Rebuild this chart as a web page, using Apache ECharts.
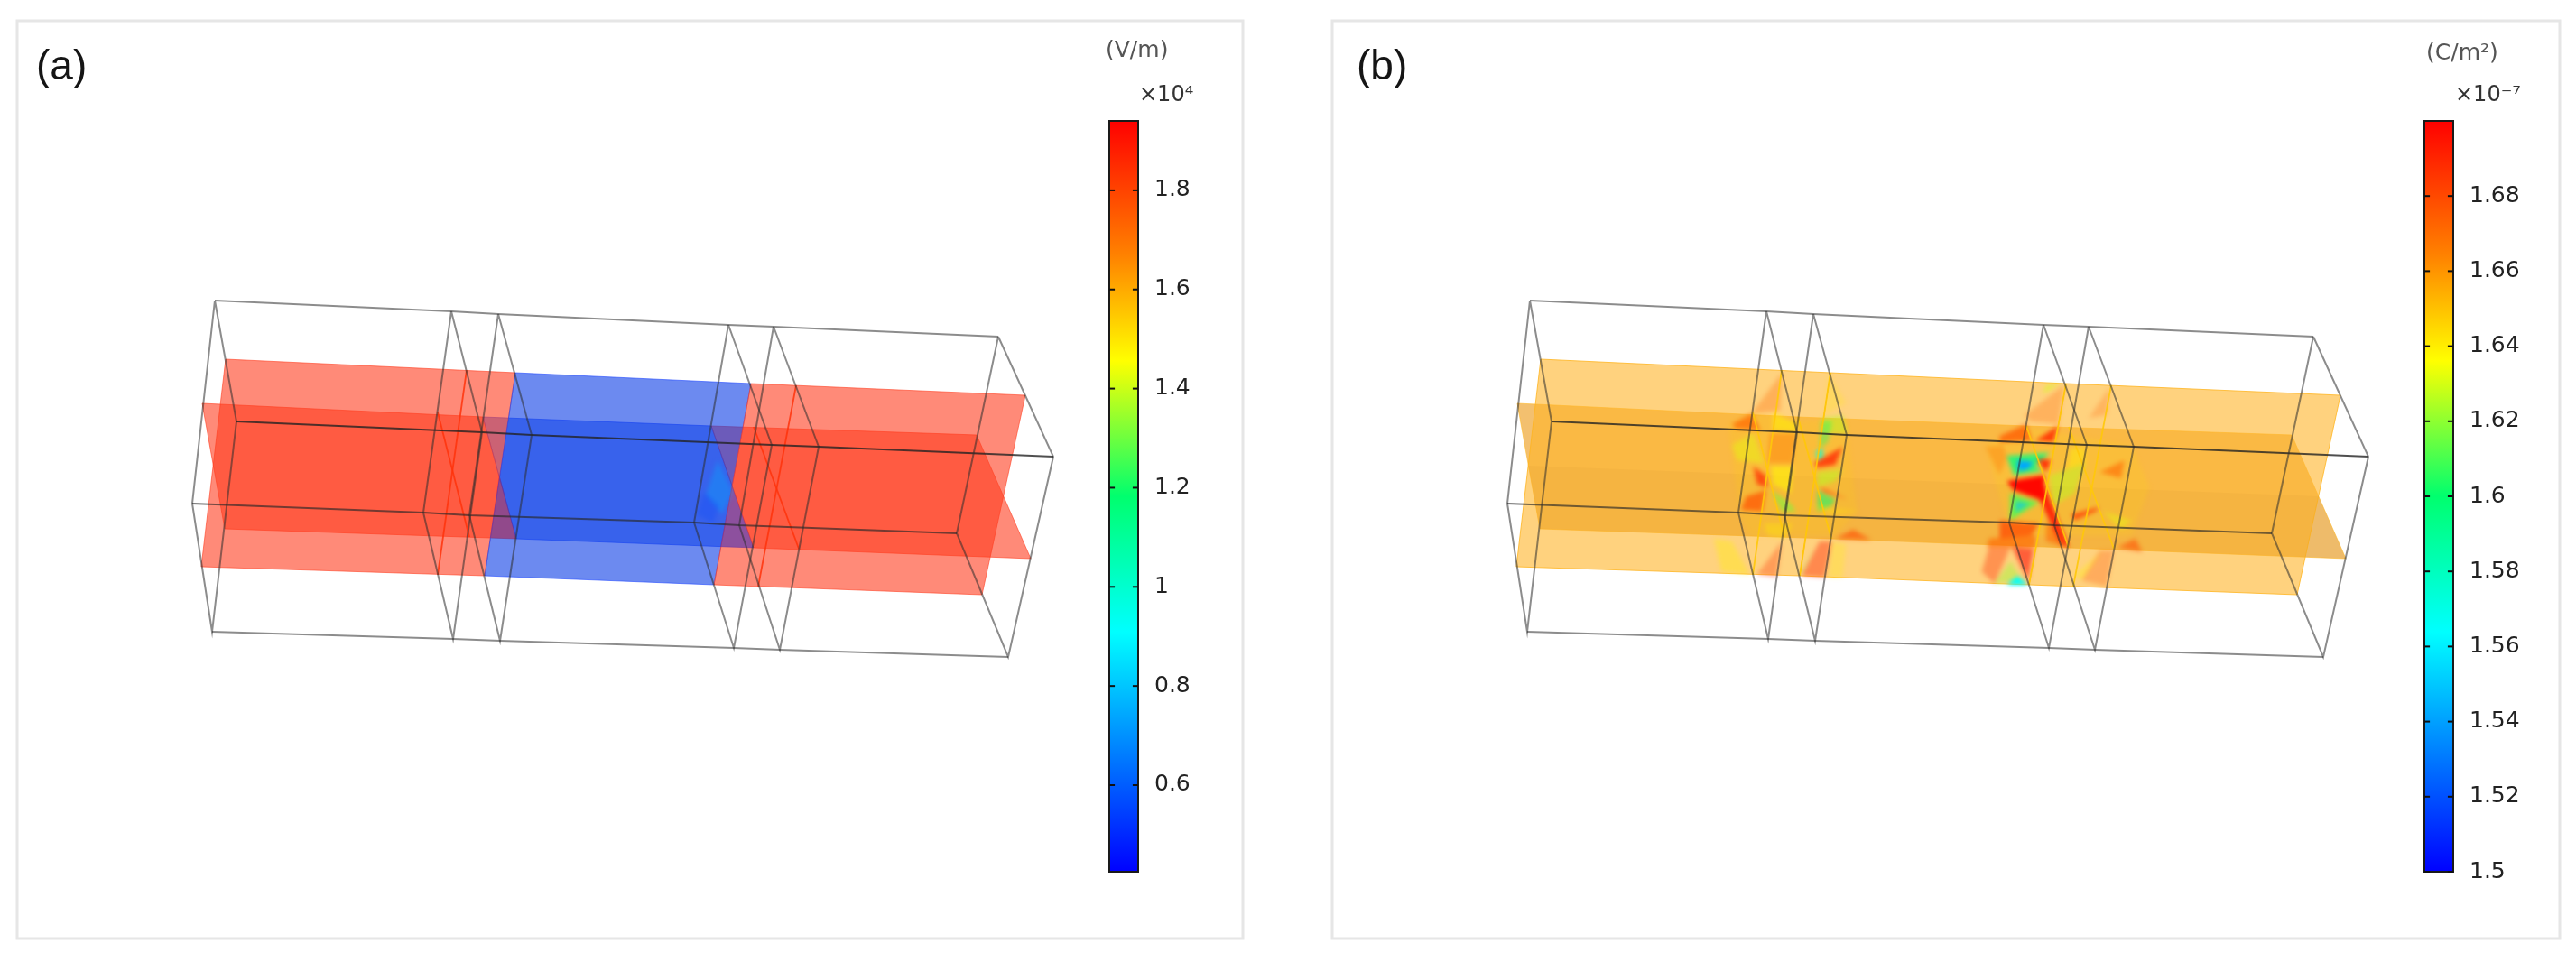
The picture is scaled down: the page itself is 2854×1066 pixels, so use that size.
<!DOCTYPE html>
<html>
<head>
<meta charset="utf-8">
<style>html,body{margin:0;padding:0;background:#fff;overflow:hidden}#c{width:2854px;height:1066px}</style>
<script src="https://cdn.jsdelivr.net/npm/echarts@6/dist/echarts.min.js"></script>
</head>
<body>
<div id="c"></div>
<script>
// Wire-frame: four long edges of the block, sampled at the six cross-sections
const edgeA = [[238,333],[500,345],[552,348],[807,360],[857,362],[1106,373]];
const edgeB = [[262,467],[534,479],[589,482],[855,493],[907,495],[1167,506]];
const edgeC = [[213,558],[469,568],[520,571],[769,579],[819,582],[1060,591]];
const edgeD = [[235,700],[502,708],[554,710],[813,718],[864,720],[1117,728]];

// The two cut planes, top and bottom edges at the same six cross-sections
const planeXTop    = [[250,398],[517,410],[571,413],[832,425],[882,427],[1136,438]];
const planeXBottom = [[223,628],[485,637],[537,638],[791,648],[840,650],[1088,659]];
const planeYTop    = [[224,447],[485,457],[535,462],[788,472],[835,473],[1082,482]];
const planeYBottom = [[249,586],[520,595],[572,597],[835,607],[885,608],[1142,619]];
const planeYShade  = [[236,516],[1112,550],[1142,619],[249,586]];

// Colour-bar ranges and ticks
const rangeA = [0.4252, 1.94];
const rangeB = [1.5, 1.70];
const ticksA = [0.6, 0.8, 1, 1.2, 1.4, 1.6, 1.8];
const ticksB = [1.5, 1.52, 1.54, 1.56, 1.58, 1.6, 1.62, 1.64, 1.66, 1.68];

// Rainbow colour scale
const jetStops = [[0,[0,0,255]],[0.32,[0,255,255]],[0.5,[0,255,110]],[0.68,[255,255,0]],[0.82,[255,130,0]],[1,[255,0,0]]];

// Field values of the panels: region field value, alpha, polygon
const fieldA = [
  [0.75, 0.35, [[795,510],[812,545],[800,570],[782,548]]],
  [0.55, 0.25, [[780,545],[797,560],[790,580],[772,570]]]
];
const overlapA = [
  [1.9, 0.25, [[553,525],[572,597],[543,596]]],
  [0.5, 0.30, [[811,538],[835,607],[798,606]]]
];
const fieldB = [
  [1.645,0.15,[[240,270],[310,230],[440,260],[570,250],[600,560],[540,640],[300,640],[270,560]]],
  [1.642,0.14,[[960,340],[1070,280],[1370,340],[1420,480],[1370,640],[1030,640]]],
  [1.672,0.30,[[305,235],[390,100],[385,225]]],
  [1.640,0.22,[[520,100],[570,200],[510,240]]],
  [1.672,0.70,[[250,270],[305,235],[330,290],[260,285]]],
  [1.638,0.50,[[365,230],[435,270],[430,295],[365,290]]],
  [1.625,0.45,[[500,250],[560,240],[575,300],[510,300]]],
  [1.632,0.42,[[250,340],[310,300],[340,400],[265,390]]],
  [1.668,0.40,[[355,300],[430,300],[420,400],[350,400]]],
  [1.636,0.50,[[360,410],[420,410],[415,500],[365,470]]],
  [1.690,0.70,[[310,410],[345,440],[350,480],[320,470]]],
  [1.678,0.70,[[290,510],[345,490],[335,560],[275,555]]],
  [1.615,0.55,[[360,490],[410,530],[430,560],[390,560]]],
  [1.625,0.50,[[490,430],[560,420],[540,460],[490,480]]],
  [1.605,0.45,[[500,260],[530,260],[520,330],[495,350]]],
  [1.692,0.75,[[480,400],[560,345],[540,405],[490,415]]],
  [1.572,0.75,[[485,360],[505,350],[505,380],[490,390]]],
  [1.600,0.55,[[490,490],[540,520],[530,540],[490,560]]],
  [1.692,0.75,[[495,480],[575,520],[510,495]]],
  [1.640,0.30,[[470,540],[610,560],[530,570]]],
  [1.640,0.35,[[340,600],[420,600],[400,650],[350,640]]],
  [1.680,0.60,[[540,650],[590,620],[640,655]]],
  [1.639,0.35,[[200,650],[250,660],[300,770],[220,760]]],
  [1.690,0.30,[[320,770],[390,660],[375,780]]],
  [1.610,0.30,[[440,770],[480,680],[450,760]]],
  [1.695,0.38,[[445,775],[495,660],[530,660],[510,780]]],
  [1.639,0.25,[[530,660],[570,670],[560,780],[520,780]]],
  [1.676,0.26,[[1070,240],[1180,140],[1165,270],[1085,260]]],
  [1.630,0.50,[[1120,170],[1130,140],[1172,135]]],
  [1.676,0.24,[[1250,250],[1310,145],[1300,240]]],
  [1.676,0.75,[[1000,310],[1075,270],[1090,325],[1000,330]]],
  [1.688,0.85,[[1100,325],[1165,275],[1150,330]]],
  [1.668,0.35,[[960,345],[1010,340],[1020,380],[1000,440]]],
  [1.595,0.80,[[1020,375],[1140,365],[1100,410],[1120,425],[1040,440]]],
  [1.542,1.00,[[1050,390],[1095,395],[1080,420],[1052,425]]],
  [1.692,0.85,[[1105,385],[1145,390],[1130,430],[1115,405]]],
  [1.625,0.45,[[1140,440],[1240,400],[1210,500],[1150,540]]],
  [1.638,0.40,[[1200,350],[1240,350],[1240,400],[1190,420]]],
  [1.698,1.00,[[1020,460],[1125,440],[1125,540],[1110,520],[1040,490]]],
  [1.695,0.85,[[1125,470],[1195,680],[1170,670],[1120,540]]],
  [1.680,0.75,[[1000,590],[1110,600],[1090,640],[1000,650]]],
  [1.610,0.80,[[1030,500],[1110,530],[1030,590]]],
  [1.548,0.60,[[1045,525],[1085,535],[1045,565]]],
  [1.672,0.65,[[970,650],[1100,640],[1100,680],[965,680]]],
  [1.674,0.55,[[1130,590],[1190,680],[1130,660]]],
  [1.685,0.75,[[1200,570],[1280,545],[1270,560],[1210,590]]],
  [1.672,0.60,[[1280,430],[1350,390],[1340,450]]],
  [1.632,0.40,[[1290,560],[1370,590],[1340,620]]],
  [1.680,0.55,[[1330,680],[1380,650],[1400,695]]],
  [1.690,0.36,[[950,760],[970,680],[1030,680],[985,800]]],
  [1.700,0.55,[[1035,680],[1095,685],[1080,790]]],
  [1.620,0.40,[[985,800],[1030,725],[1065,790]]],
  [1.565,1.00,[[1020,805],[1050,775],[1080,805]]],
  [1.639,0.32,[[1210,770],[1290,690],[1230,790]]],
  [1.682,0.26,[[1230,790],[1280,690],[1320,690],[1300,810]]]
];

function jet(t){
  t = Math.max(0, Math.min(1, t));
  for (let i = 1; i < jetStops.length; i++) {
    if (t <= jetStops[i][0]) {
      const a = jetStops[i-1], b = jetStops[i], f = (t-a[0])/(b[0]-a[0]);
      return a[1].map((v,k)=>Math.round(v+(b[1][k]-v)*f));
    }
  }
  return jetStops[jetStops.length-1][1];
}
const rgba = (c,a)=>`rgba(${c[0]},${c[1]},${c[2]},${a})`;

function polySeries(name, xi, yi, polys, z, zlevel){
  return {
    type:'custom', name, xAxisIndex:xi, yAxisIndex:yi, silent:true, clip:false, z, zlevel:zlevel||0,
    data: polys.map((p)=>p.pts[0]),
    encode:{x:0,y:1},
    renderItem(params, api){
      const p = polys[params.dataIndex];
      const style = {fill:p.fill||'none', stroke:p.stroke||null, lineWidth:p.lw||0};
      if (p.open) {
        return {type:'polyline', shape:{points:p.pts.map(q=>api.coord(q))}, style:{fill:'none',stroke:p.stroke,lineWidth:p.lw}};
      }
      return {type:'polygon', shape:{points:p.pts.map(q=>api.coord(q))}, style};
    }
  };
}

function band(top,bottom,i,j){ return [top[i],top[j],bottom[j],bottom[i]]; }

function wires(){
  const out = [];
  const stroke = 'rgba(45,45,45,0.55)';
  out.push({pts:edgeA,open:true,stroke,lw:2});
  out.push({pts:edgeB,open:true,stroke:'rgba(35,35,35,0.8)',lw:2.2});
  out.push({pts:edgeC,open:true,stroke:'rgba(40,40,40,0.65)',lw:2});
  out.push({pts:edgeD,open:true,stroke,lw:2});
  for (let i=0;i<edgeA.length;i++){
    out.push({pts:[edgeA[i],edgeB[i],edgeD[i],edgeC[i],edgeA[i]],open:true,stroke,lw:2});
  }
  return out;
}

function sections(lineColor, which){
  const out=[];
  which.forEach(i=>{
    out.push({pts:[planeXTop[i],planeXBottom[i]],open:true,stroke:lineColor,lw:1.8});
    out.push({pts:[planeYTop[i],planeYBottom[i]],open:true,stroke:lineColor,lw:1.8});
  });
  return out;
}

function panelPlanes(colorsY, colorsX, edgeY, edgeX){
  const out=[];
  [[0,2,0],[2,3,1],[3,5,0]].forEach(s=>{
    out.push({pts:band(planeYTop,planeYBottom,s[0],s[1]),fill:colorsY[s[2]],stroke:edgeY[s[2]],lw:1});
  });
  [[0,2,0],[2,3,1],[3,5,0]].forEach(s=>{
    out.push({pts:band(planeXTop,planeXBottom,s[0],s[1]),fill:colorsX[s[2]],stroke:edgeX[s[2]],lw:1});
  });
  return out;
}

const norm = (r,v)=>(v-r[0])/(r[1]-r[0]);
const patchesA = fieldA.map(r=>({pts:r[2],fill:rgba(jet(norm(rangeA,r[0])),r[1])}));
const patchesB = fieldB.map(r=>({pts:r[2],fill:rgba(jet(norm(rangeB,r[0])),r[1])}));
const overlaysA = overlapA.map(r=>({pts:r[2],fill:rgba(jet(norm(rangeA,r[0])),r[1])}));

const frameA = [[19,23],[1377,23],[1377,1040],[19,1040]];
const frameB = [[19,23],[1379,23],[1379,1040],[19,1040]];

const sceneX = (i,max)=>({type:'value',gridIndex:i,min:0,max,show:false});
const sceneY = (i,max)=>({type:'value',gridIndex:i,min:0,max,inverse:true,show:false});

const gradient = {type:'linear',x:0,y:1,x2:0,y2:0,colorStops:jetStops.map(s=>({offset:s[0],color:rgba(s[1],1)}))};

function barSeries(xi,yi,range){
  return {
    type:'custom', xAxisIndex:xi, yAxisIndex:yi, silent:true, z:5, zlevel:2, clip:false,
    data:[[0,range[0],1,range[1]]], encode:{x:[0,2],y:[1,3]},
    renderItem(params,api){
      const p0=api.coord([api.value(0),api.value(3)]), p1=api.coord([api.value(2),api.value(1)]);
      return {type:'rect',shape:{x:p0[0],y:p0[1],width:p1[0]-p0[0],height:p1[1]-p0[1]},
        style:{fill:gradient,stroke:'#1a1a1a',lineWidth:2}};
    }
  };
}
function tickSeries(xi,yi,ticks){
  return {
    type:'custom', xAxisIndex:xi, yAxisIndex:yi, silent:true, z:6, zlevel:2, clip:false,
    data:ticks.map(v=>[0,v]), encode:{x:0,y:1},
    renderItem(params,api){
      const v = api.value(1), style = {stroke:'#111',lineWidth:2,fill:'none'};
      return {type:'group',children:[[0,0.19],[0.81,1]].map(s=>({type:'polyline',
        shape:{points:[api.coord([s[0],v]),api.coord([s[1],v])]},style}))};
    }
  };
}
function barAxis(gi,range,ticks){
  return {type:'value',gridIndex:gi,position:'right',min:range[0],max:range[1],
     axisLine:{show:false},splitLine:{show:false},axisTick:{show:false},
     axisLabel:{show:true,margin:18,color:'#222',fontSize:25,fontFamily:'DejaVu Sans',padding:[2,0,0,0],customValues:ticks,formatter:v=>String(+v.toFixed(2)),hideOverlap:false,showMinLabel:true,showMaxLabel:true}};
}
const txt = (x,y,text,font,fill)=>({type:'text',x,y,zlevel:2,silent:true,style:{text,font,fill,textVerticalAlign:'middle',textAlign:'left'}});

const option = {
  backgroundColor:'#fff',
  animation:false,
  grid:[
    {left:0,top:0,width:1400,height:1066},
    {left:1457,top:0,width:1397,height:1066},
    {left:1820,top:380,width:620,height:300},
    {left:1229,top:134,width:32,height:832},
    {left:2686,top:134,width:32,height:832}
  ],
  xAxis:[sceneX(0,1400),sceneX(1,1397),sceneX(2,1568),
    {type:'value',gridIndex:3,min:0,max:1,show:false},
    {type:'value',gridIndex:4,min:0,max:1,show:false}],
  yAxis:[sceneY(0,1066),sceneY(1,1066),sceneY(2,900),
    barAxis(3,rangeA,ticksA),barAxis(4,rangeB,ticksB)],
  series:[
    polySeries('frameA',0,0,[{pts:frameA,stroke:'#e6e6e6',lw:3}],1),
    polySeries('frameB',1,1,[{pts:frameB,stroke:'#e6e6e6',lw:3}],1),
    // panel (a)
    polySeries('planesA',0,0,panelPlanes(
      ['rgba(255,60,30,0.6)','rgba(40,90,240,0.6)'],
      ['rgba(255,60,30,0.6)','rgba(10,60,230,0.6)'],
      ['rgba(255,60,30,0.6)','rgba(30,70,255,0.6)'],
      ['rgba(255,60,30,0.6)','rgba(30,70,255,0.6)']),2),
    polySeries('overlapA',0,0,overlaysA,3),
    polySeries('fieldA',0,0,patchesA,3,1),
    polySeries('sectionsA',0,0,sections('rgba(255,50,10,0.85)',[1,4]),3,2),
    polySeries('wireA',0,0,wires(),4,2),
    // panel (b)
    polySeries('planesB',1,1,panelPlanes(
      ['rgba(235,150,15,0.6)','rgba(235,150,15,0.6)'],
      ['rgba(255,180,40,0.6)','rgba(255,180,40,0.6)'],
      ['rgba(255,185,40,0.6)','rgba(255,185,40,0.6)'],
      ['rgba(255,180,30,0.8)','rgba(255,180,30,0.8)']),2),
    polySeries('shadeB',1,1,[{pts:planeYShade,fill:'rgba(140,80,0,0.04)'}],2),
    polySeries('fieldB',2,2,patchesB,3,1),
    polySeries('sectionsB',1,1,sections('rgba(255,200,10,0.9)',[1,2,3,4]),3,2),
    polySeries('wireB',1,1,wires(),4,2),
    barSeries(3,3,rangeA),
    barSeries(4,4,rangeB),
    tickSeries(3,3,ticksA),
    tickSeries(4,4,ticksB)
  ],
  graphic:[
    txt(40,75,'(a)','46px "Liberation Sans"','#151515'),
    txt(1503,75,'(b)','46px "Liberation Sans"','#151515'),
    txt(1225,56,'(V/m)','25px "DejaVu Sans"','#555'),
    txt(1262,106,'×10⁴','24px "DejaVu Sans"','#333'),
    txt(2688,59,'(C/m²)','25px "DejaVu Sans"','#555'),
    txt(2720,106,'×10⁻⁷','24px "DejaVu Sans"','#333')
  ]
};
const chart = echarts.init(document.getElementById('c'),null,{renderer:'canvas',width:2854,height:1066});
chart.setOption(option);
const layers = chart.getDom().querySelectorAll('canvas');
layers.forEach((c,i)=>{ c.style.filter = i===1 ? 'blur(2.5px)' : 'blur(0.6px)'; });
</script>
</body>
</html>
